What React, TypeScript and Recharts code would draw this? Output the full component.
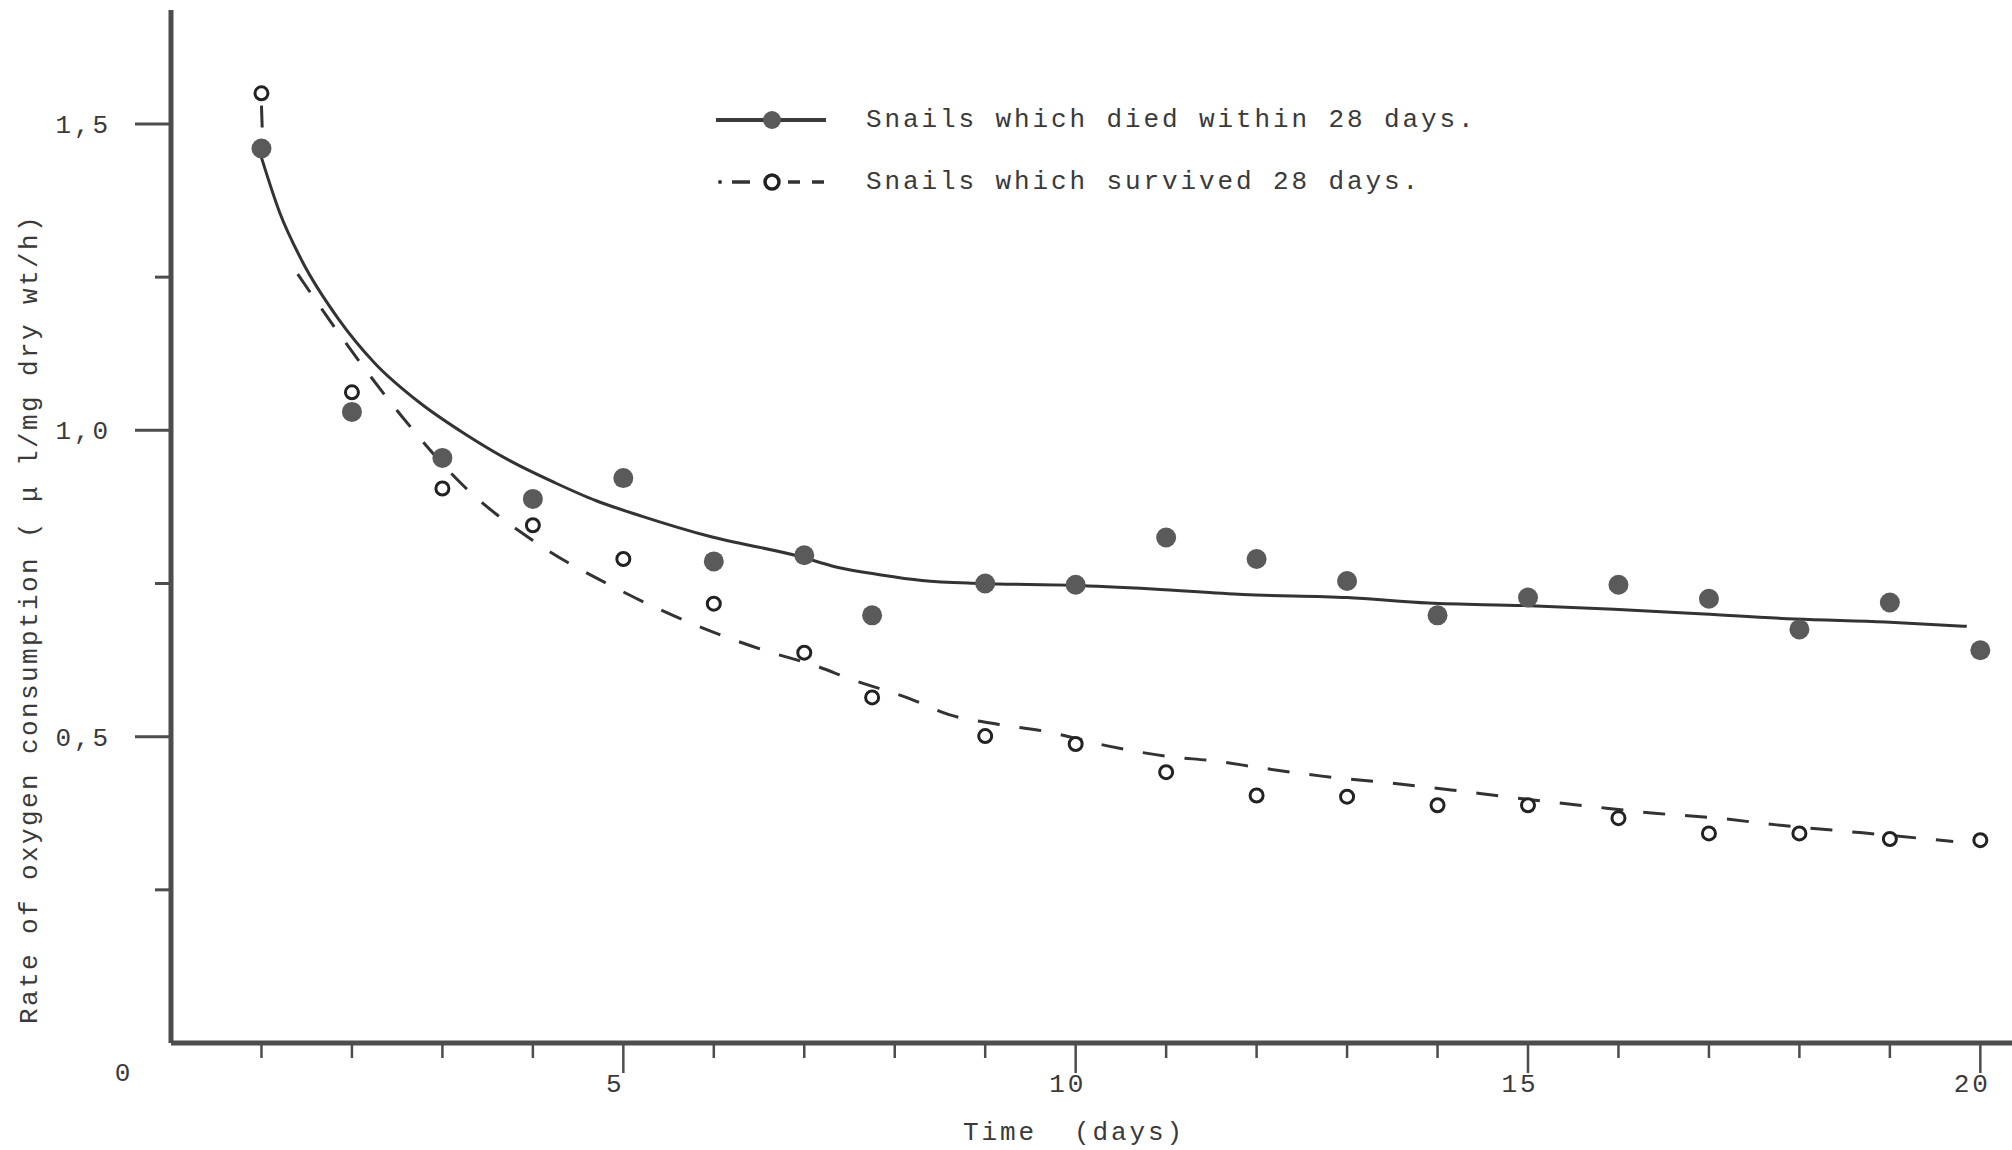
import React from 'react'
import { ComposedChart, Line, Scatter, XAxis, YAxis, Legend } from 'recharts'

// measured days (one reading lies between 7 and 8)
const days = [1, 2, 3, 4, 5, 6, 7, 7.75, 9, 10, 11, 12, 13, 14, 15, 16, 17, 18, 19, 20]

// snails which died within 28 days (filled)
const diedRate = [
  1.46, 1.03, 0.955, 0.888, 0.922, 0.786, 0.796, 0.698, 0.75, 0.748,
  0.825, 0.79, 0.754, 0.698, 0.727, 0.748, 0.725, 0.675, 0.719, 0.641,
]

// snails which survived 28 days (open)
const survivedRate = [
  1.55, 1.062, 0.905, 0.845, 0.79, 0.717, 0.637, 0.564, 0.501, 0.488,
  0.442, 0.404, 0.402, 0.388, 0.388, 0.367, 0.342, 0.342, 0.333, 0.331,
]

// hand drawn fitted curves
const diedCurveX = [
  1.0, 1.2, 1.45, 1.85, 2.25, 2.75, 3.25, 3.75, 4.25, 4.7, 5.2, 5.95, 6.95, 7.35,
  7.85, 8.3, 8.95, 9.95, 10.85, 11.85, 13.0, 13.9, 14.95, 15.95, 16.95, 17.95, 18.95, 19.85,
]
const diedCurveY = [
  1.445, 1.356, 1.276, 1.182, 1.11, 1.045, 0.994, 0.95, 0.914, 0.885, 0.86, 0.827, 0.794, 0.777,
  0.764, 0.755, 0.75, 0.747, 0.741, 0.732, 0.727, 0.718, 0.714, 0.708, 0.7, 0.692, 0.687, 0.68,
]

const survivedCurveX = [
  1.0, 1.01, 1.2, 1.4, 1.95, 2.55, 3.25, 4.0, 4.95, 5.95, 6.6, 7.1, 7.55, 8.15, 8.6, 9.15,
  9.65, 10.35, 11.0, 11.55, 12.05, 12.7, 13.5, 14.15, 14.75, 15.7, 16.4, 17.1, 17.75, 18.7, 19.7,
]
const survivedCurveY = [
  1.53, 1.485, null, 1.255, 1.139, 1.023, 0.907, 0.82, 0.74, 0.673, 0.639, 0.617, 0.592, 0.563,
  0.536, 0.52, 0.509, 0.485, 0.468, 0.46, 0.449, 0.436, 0.424, 0.413, 0.402, 0.386, 0.375,
  0.367, 0.356, 0.343, 0.329,
]

const xTicks = [0, 1, 2, 3, 4, 5, 6, 7, 8, 9, 10, 11, 12, 13, 14, 15, 16, 17, 18, 19, 20]
const yTicks = [0.25, 0.5, 0.75, 1, 1.25, 1.5]
const yTickLabels: Record<string, string> = { '0.5': '0,5', '1': '1,0', '1.5': '1,5' }

const FONT = '"Liberation Mono", "DejaVu Sans Mono", monospace'
const INK = '#3a3a3a'
const AXIS = '#4d4d4d'

const diedPoints = days.map((d, i) => ({ x: d, y: diedRate[i] }))
const survivedPoints = days.map((d, i) => ({ x: d, y: survivedRate[i] }))
const diedCurve = diedCurveX.map((x, i) => ({ x, y: diedCurveY[i] }))
const survivedCurve = survivedCurveX.map((x, i) => ({ x, y: survivedCurveY[i] }))

const textStyle = { fontFamily: FONT, fontSize: 26, letterSpacing: 2.9, fill: INK }

function XTick({ x, y, payload }: any) {
  const v = payload.value
  if (v === 0) {
    return (
      <text x={x - 47} y={y + 38} textAnchor="middle" style={textStyle}>
        0
      </text>
    )
  }
  const major = v % 5 === 0
  return (
    <g>
      <line x1={x} y1={y} x2={x} y2={y + (major ? 30 : 15)} stroke={AXIS} strokeWidth={2.5} />
      {major && (
        <text x={x - 8} y={y + 49} textAnchor="middle" style={textStyle}>
          {v}
        </text>
      )}
    </g>
  )
}

function YTick({ x, y, payload }: any) {
  const label = yTickLabels[String(payload.value)]
  return (
    <g>
      <line x1={x - (label ? 36 : 16)} y1={y} x2={x} y2={y} stroke={AXIS} strokeWidth={3} />
      {label && (
        <text x={x - 60} y={y + 9} textAnchor="end" style={textStyle}>
          {label}
        </text>
      )}
    </g>
  )
}

function FilledDot({ cx, cy }: any) {
  return <circle cx={cx} cy={cy} r={10} fill="#5a5a5a" />
}

function OpenDot({ cx, cy }: any) {
  return <circle cx={cx} cy={cy} r={6.5} fill="#fff" stroke="#222" strokeWidth={3} />
}

function LegendBox() {
  const row = { display: 'flex', alignItems: 'center', height: 40 }
  const label = {
    marginLeft: 40,
    whiteSpace: 'pre' as const,
    fontFamily: FONT,
    fontSize: 26,
    letterSpacing: 2.9,
    color: INK,
  }
  return (
    <div>
      <div style={row}>
        <svg width={110} height={30}>
          <line x1={0} x2={110} y1={15} y2={15} stroke="#3a3a3a" strokeWidth={4} />
          <circle cx={56} cy={15} r={9} fill="#5a5a5a" />
        </svg>
        <span style={label}>Snails which died within 28 days.</span>
      </div>
      <div style={{ ...row, marginTop: 22 }}>
        <svg width={110} height={30}>
          <circle cx={4} cy={15} r={2} fill="#333" />
          <line x1={16} x2={34} y1={15} y2={15} stroke="#333" strokeWidth={3.5} />
          <circle cx={56} cy={15} r={7} fill="#fff" stroke="#222" strokeWidth={3.5} />
          <line x1={72} x2={84} y1={15} y2={15} stroke="#333" strokeWidth={3.5} />
          <line x1={96} x2={108} y1={15} y2={15} stroke="#333" strokeWidth={3.5} />
        </svg>
        <span style={label}>Snails which survived 28 days.</span>
      </div>
    </div>
  )
}

export default function App() {
  return (
    <div style={{ width: 2012, height: 1150, background: '#fff' }}>
      <style>{'body{margin:0}'}</style>
      <ComposedChart width={2012} height={1150} margin={{ top: 10, right: 0, bottom: 0, left: 0 }}>
        <XAxis
          type="number"
          dataKey="x"
          domain={[0, 20.35]}
          ticks={xTicks}
          interval={0}
          allowDataOverflow
          height={107}
          tickSize={0}
          tickMargin={0}
          tickLine={false}
          axisLine={{ stroke: AXIS, strokeWidth: 5 }}
          tick={<XTick />}
          label={{
            content: ({ viewBox }: any) => (
              <text
                x={viewBox.x + 903}
                y={viewBox.y + 97}
                textAnchor="middle"
                xmlSpace="preserve"
                style={{ ...textStyle, whiteSpace: 'pre' }}
              >
                {'Time  (days)'}
              </text>
            ),
          }}
        />
        <YAxis
          type="number"
          dataKey="y"
          domain={[0, 1.686]}
          ticks={yTicks}
          interval={0}
          allowDataOverflow
          width={171}
          tickSize={0}
          tickMargin={0}
          tickLine={false}
          axisLine={{ stroke: AXIS, strokeWidth: 5 }}
          tick={<YTick />}
          label={{
            content: () => (
              <text
                x={37}
                y={619}
                textAnchor="middle"
                transform="rotate(-90, 37, 619)"
                style={{ ...textStyle, letterSpacing: 2.4 }}
              >
                Rate of oxygen consumption ( μ l/mg dry wt/h)
              </text>
            ),
          }}
        />
        <Legend
          content={<LegendBox />}
          layout="horizontal"
          verticalAlign="middle"
          align="center"
          wrapperStyle={{ top: 100, left: 716, width: 1000 }}
        />
        <Line
          data={diedCurve}
          dataKey="y"
          type="monotone"
          stroke="#333"
          strokeWidth={3}
          dot={false}
          activeDot={false}
          isAnimationActive={false}
          legendType="none"
        />
        <Line
          data={survivedCurve}
          dataKey="y"
          type="monotone"
          stroke="#333"
          strokeWidth={3}
          strokeDasharray="22 20"
          dot={false}
          activeDot={false}
          isAnimationActive={false}
          legendType="none"
        />
        <Scatter data={diedPoints} dataKey="y" shape={<FilledDot />} isAnimationActive={false} />
        <Scatter data={survivedPoints} dataKey="y" shape={<OpenDot />} isAnimationActive={false} />
      </ComposedChart>
    </div>
  )
}
